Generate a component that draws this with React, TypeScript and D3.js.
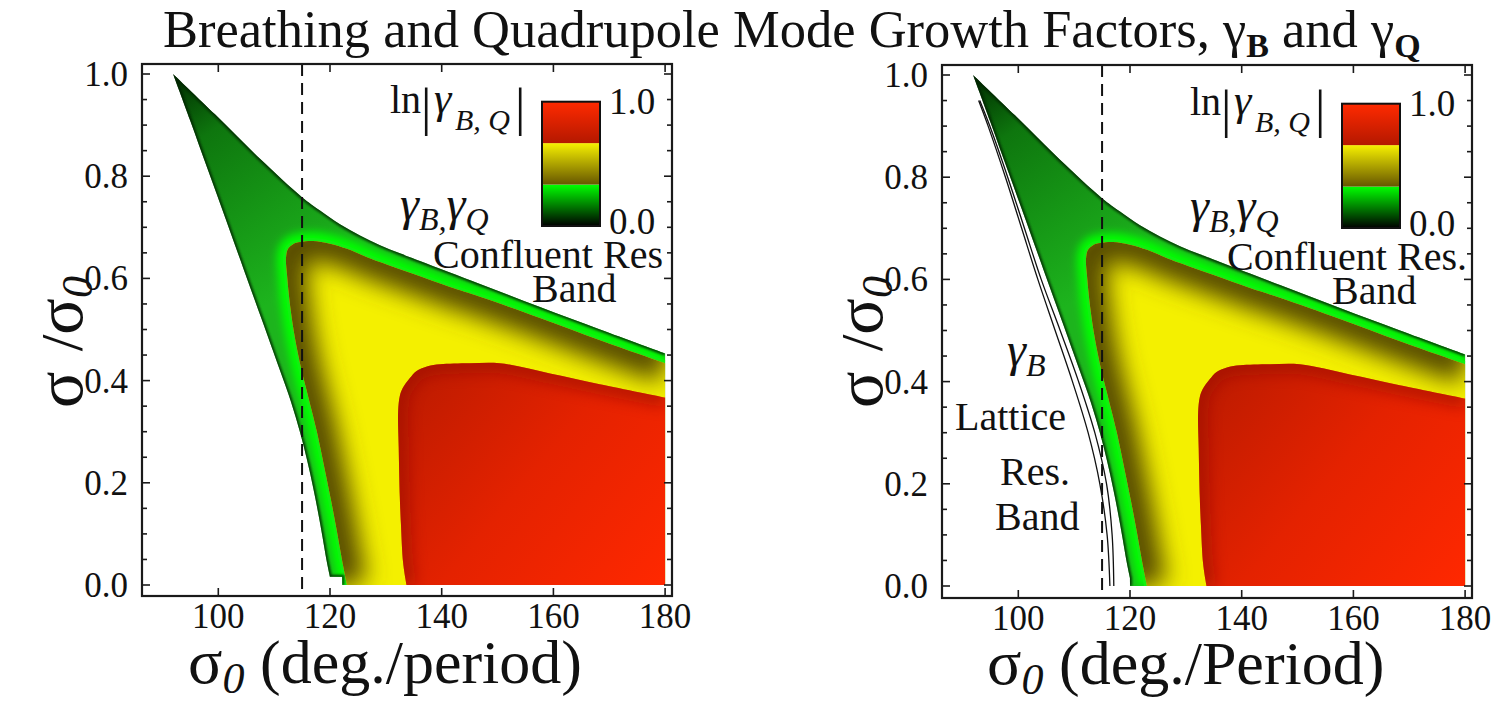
import React from 'react';
import * as d3 from 'd3';

type Pt = [number, number];

// ---------- data ----------
const xTicks = [100, 120, 140, 160, 180];
const yTicks = [0, 0.2, 0.4, 0.6, 0.8, 1.0];
const yMinorTicks = [0.05, 0.1, 0.15, 0.25, 0.3, 0.35, 0.45, 0.5, 0.55, 0.65, 0.7, 0.75, 0.85, 0.9, 0.95];
const resonanceSigma0 = 115;
const colorbarValues = [0, 1 / 3, 2 / 3, 1];
const colorbarLabels = ['0.0', '1.0'];

// outer (upper-right) boundary of the unstable region, from the tip to sigma0 = 180
const outerUpper: Pt[] = [
  [91.9, 1.0], [99.41, 0.921], [107.47, 0.834], [114.99, 0.759], [118.21, 0.733],
  [121.79, 0.706], [125.37, 0.684], [128.95, 0.665], [132.53, 0.649], [136.11, 0.634],
  [146.86, 0.589], [157.6, 0.544], [168.35, 0.5], [180, 0.453],
];
// outer (lower-left) boundary, from the tip down towards sigma = 0
const outerLower: Pt[] = [
  [91.9, 1.0], [94.93, 0.91], [98.15, 0.812], [101.4, 0.714], [104.6, 0.616],
  [107.8, 0.519], [111.0, 0.421], [113.02, 0.358], [114.63, 0.299], [115.88, 0.245],
  [116.96, 0.192], [117.85, 0.143], [118.66, 0.094], [119.37, 0.049], [119.99, 0.016],
];
const outerTailLeft: Pt[] = [[122.2, 0.016], [122.2, 0]];
const outerTailRight: Pt[] = [[120, 0]];
// contour ln|gamma| = 1/3 (green / yellow)
const greenInner: Pt[] = [
  [123.05, 0.0], [122.15, 0.049], [121.25, 0.104], [120.18, 0.166], [118.93, 0.233],
  [117.67, 0.299], [116.24, 0.362], [114.81, 0.425], [113.73, 0.483], [112.84, 0.548],
  [112.3, 0.607], [112.12, 0.64], [112.48, 0.658], [113.38, 0.667], [114.63, 0.671],
  [116.96, 0.673], [120.0, 0.668], [123.05, 0.658], [125.92, 0.645], [128.95, 0.632],
  [134.86, 0.609], [141.49, 0.583], [146.86, 0.564], [157.6, 0.5225], [168.35, 0.479],
  [180, 0.434],
];
// contour ln|gamma| = 2/3 (yellow / red)
const redEdge: Pt[] = [
  [133.7, 0.0], [133.1, 0.043], [132.7, 0.12], [132.5, 0.172], [132.3, 0.27], [132.2, 0.34],
  [132.5, 0.37], [133.0, 0.385], [134.3, 0.405], [135.5, 0.419], [137.5, 0.428],
  [139.7, 0.432], [145, 0.434], [150.4, 0.434], [159.4, 0.414], [168.3, 0.393], [180, 0.367],
];
// gamma_B lattice resonance band (right panel)
const latticeOuter: Pt[] = [
  [92.9, 0.95], [94.6, 0.9], [97.7, 0.8], [100.6, 0.7], [103.5, 0.6], [106.6, 0.5],
  [109.7, 0.4], [112.5, 0.3], [114.6, 0.2], [115.9, 0.1], [116.4, 0.0],
];
const latticeInner: Pt[] = [
  [93.1, 0.95], [94.9, 0.9], [98.1, 0.8], [101.1, 0.7], [104.1, 0.6], [107.5, 0.5],
  [110.8, 0.4], [113.7, 0.3], [115.8, 0.2], [116.8, 0.1], [117.1, 0.0],
];

const PX_PER_UNIT = 5.585;
const FONT = "'Liberation Serif', 'DejaVu Serif', serif";

interface PanelCfg {
  id: string;
  left: number; right: number; top: number; bottom: number;
  x100: number; y0: number; y1: number;
  tail: Pt[];
  lattice: boolean;
  xLabel: string; xLabelX: number; xLabelY: number;
  yLabelX: number;
  confluent: string; confluentX: number;
  gammaX: number;
  dy: number;
}

const panels: PanelCfg[] = [
  {
    id: 'L', left: 142, right: 672, top: 64, bottom: 596, x100: 218.3, y0: 585, y1: 74,
    tail: outerTailLeft, lattice: false,
    xLabel: ' (deg./period)', xLabelX: 188, xLabelY: 683, yLabelX: 82,
    confluent: 'Confluent Res', confluentX: 433, gammaX: 400, dy: 0,
  },
  {
    id: 'R', left: 942, right: 1472, top: 65, bottom: 598, x100: 1018.3, y0: 586, y1: 75,
    tail: outerTailRight, lattice: true,
    xLabel: ' (deg./Period)', xLabelX: 987, xLabelY: 684, yLabelX: 882,
    confluent: 'Confluent Res.', confluentX: 1227, gammaX: 1190, dy: 2,
  },
];

function Panel({ cfg }: { cfg: PanelCfg }) {
  const x = d3.scaleLinear().domain([100, 180]).range([cfg.x100, cfg.x100 + 80 * PX_PER_UNIT]);
  const y = d3.scaleLinear().domain([0, 1]).range([cfg.y0, cfg.y1]);
  const line = d3.line<Pt>().x((d) => x(d[0])).y((d) => y(d[1])).curve(d3.curveCatmullRom.alpha(0.5));
  const seg = (pts: Pt[]) => line(pts) as string;
  const cont = (pts: Pt[]) => seg(pts).replace(/^M/, 'L');
  const L = (p: Pt) => `L${x(p[0])},${y(p[1])}`;

  const tailRev = cfg.tail.slice().reverse();
  const outerPath =
    seg(outerUpper) + L([180, 0]) + tailRev.map(L).join('') + cont(outerLower.slice().reverse()) + 'Z';
  const yellowPath = seg(greenInner) + L([180, 0]) + 'Z';
  const redPath = seg(redEdge) + L([180, 0]) + 'Z';
  const edgePath = seg(outerUpper) + ' ' + seg(outerLower) + cfg.tail.map(L).join('');

  const id = cfg.id;
  const cbX = cfg.left + 400;
  const cbW = 58;
  const cb = d3.scaleLinear().domain([0, 1]).range([226 + cfg.dy, 101.7 + cfg.dy]);
  const cbGrads = [
    { top: '#00ff00', bottom: '#000000' },
    { top: '#f6f000', bottom: '#665600' },
    { top: '#ff2a00', bottom: '#b41800' },
  ];
  const ox = cfg.left - 142; // horizontal offset of this panel
  const dy = cfg.dy;

  return (
    <g>
      <defs>
        <clipPath id={`plot-${id}`}>
          <rect x={cfg.left} y={cfg.top} width={cfg.right - cfg.left} height={cfg.bottom - cfg.top} />
        </clipPath>
        <clipPath id={`outer-${id}`}><path d={outerPath} /></clipPath>
        <clipPath id={`yellow-${id}`}><path d={yellowPath} /></clipPath>
        <clipPath id={`red-${id}`}><path d={redPath} /></clipPath>
        <linearGradient id={`gbase-${id}`} gradientUnits="userSpaceOnUse"
          x1={x(92)} y1={y(1)} x2={x(116)} y2={y(0.6)}>
          <stop offset="0" stopColor="#002c00" />
          <stop offset="0.28" stopColor="#0e760e" />
          <stop offset="1" stopColor="#1db41d" />
        </linearGradient>
        <linearGradient id={`rgrad-${id}`} gradientUnits="userSpaceOnUse"
          x1={x(132)} y1={y(0.43)} x2={x(180)} y2={y(0)}>
          <stop offset="0" stopColor="#b81a00" />
          <stop offset="0.5" stopColor="#e42200" />
          <stop offset="1" stopColor="#ff2800" />
        </linearGradient>
        {cbGrads.map((g, i) => (
          <linearGradient key={i} id={`cb-${id}-${i}`} x1="0" y1="0" x2="0" y2="1">
            <stop offset="0" stopColor={g.top} />
            <stop offset="1" stopColor={g.bottom} />
          </linearGradient>
        ))}
        <filter id={`blur5-${id}`} filterUnits="userSpaceOnUse" x="0" y="0" width="1499" height="703">
          <feGaussianBlur stdDeviation="4" />
        </filter>
        <filter id={`blur12-${id}`} filterUnits="userSpaceOnUse" x="0" y="0" width="1499" height="703">
          <feGaussianBlur stdDeviation="12" />
        </filter>
        <filter id={`blur8-${id}`} filterUnits="userSpaceOnUse" x="0" y="0" width="1499" height="703">
          <feGaussianBlur stdDeviation="7" />
        </filter>
        <filter id={`blur1-${id}`} filterUnits="userSpaceOnUse" x="0" y="0" width="1499" height="703">
          <feGaussianBlur stdDeviation="0.8" />
        </filter>
      </defs>

      <g clipPath={`url(#plot-${id})`}>
        {/* green band */}
        <path d={outerPath} fill={`url(#gbase-${id})`} />
        <g clipPath={`url(#outer-${id})`}>
          <path d={seg(greenInner)} fill="none" stroke="#00ff00" strokeWidth={18} filter={`url(#blur5-${id})`} />
          <path d={seg(greenInner)} fill="none" stroke="#10f010" strokeWidth={6} />
          <path d={edgePath} fill="none" stroke="#062006" strokeWidth={4} opacity={0.8} filter={`url(#blur1-${id})`} />
        </g>
        {/* yellow band */}
        <path d={yellowPath} fill="#f4f000" />
        <g clipPath={`url(#yellow-${id})`}>
          <path d={seg(greenInner)} fill="none" stroke="#544800" strokeWidth={40} filter={`url(#blur12-${id})`} />
        </g>
        {/* red region */}
        <path d={redPath} fill={`url(#rgrad-${id})`} />
        <g clipPath={`url(#red-${id})`}>
          <path d={seg(redEdge)} fill="none" stroke="#9a1000" strokeWidth={20} opacity={0.55} filter={`url(#blur8-${id})`} />
        </g>
        {cfg.lattice && (
          <g fill="none" stroke="#111" strokeWidth={1.3}>
            <path d={seg(latticeOuter)} />
            <path d={seg(latticeInner)} />
          </g>
        )}
      </g>

      {/* resonance line */}
      <line x1={x(resonanceSigma0)} x2={x(resonanceSigma0)} y1={cfg.top} y2={cfg.bottom}
        stroke="#111" strokeWidth={2} strokeDasharray="12,7" />

      {/* frame */}
      <rect x={cfg.left} y={cfg.top} width={cfg.right - cfg.left} height={cfg.bottom - cfg.top}
        fill="none" stroke="#1a1a1a" strokeWidth={2.2} />
      <g stroke="#1a1a1a" strokeWidth={1.6}>
        {xTicks.map((t) => (
          <g key={`xt${t}`}>
            <line x1={x(t)} x2={x(t)} y1={cfg.bottom} y2={cfg.bottom - 8} />
            <line x1={x(t)} x2={x(t)} y1={cfg.top} y2={cfg.top + 8} />
          </g>
        ))}
        {yTicks.map((t) => (
          <g key={`yt${t}`}>
            <line x1={cfg.left} x2={cfg.left + 8} y1={y(t)} y2={y(t)} />
            <line x1={cfg.right} x2={cfg.right - 8} y1={y(t)} y2={y(t)} />
          </g>
        ))}
        {yMinorTicks.map((t) => (
          <g key={`ym${t}`}>
            <line x1={cfg.left} x2={cfg.left + 5} y1={y(t)} y2={y(t)} />
            <line x1={cfg.right} x2={cfg.right - 5} y1={y(t)} y2={y(t)} />
          </g>
        ))}
      </g>
      <g fontFamily={FONT} fontSize={35} fill="#111">
        {xTicks.map((t) => (
          <text key={`xl${t}`} x={x(t)} y={cfg.bottom + 32} textAnchor="middle">{t}</text>
        ))}
        {yTicks.map((t) => (
          <text key={`yl${t}`} x={cfg.left - 14} y={y(t) + 12} textAnchor="end">{d3.format('.1f')(t)}</text>
        ))}
      </g>

      {/* axis labels */}
      <text x={cfg.xLabelX} y={cfg.xLabelY} fontFamily={FONT} fill="#111">
        <tspan fontSize={64}>σ</tspan>
        <tspan fontSize={44} fontStyle="italic" dy={10}>0</tspan>
        <tspan fontSize={62} dy={-10}>{cfg.xLabel}</tspan>
      </text>
      <text transform={`translate(${cfg.yLabelX},342) rotate(-90)`} textAnchor="middle" fontFamily={FONT} fill="#111">
        <tspan fontSize={68}>σ</tspan>
        <tspan fontSize={60} dx={20}>/</tspan>
        <tspan fontSize={68}>σ</tspan>
        <tspan fontSize={44} fontStyle="italic" dy={10}>0</tspan>
      </text>

      {/* colour bar */}
      {cbGrads.map((g, i) => (
        <rect key={`cb${i}`} x={cbX} width={cbW} y={cb(colorbarValues[i + 1])}
          height={cb(colorbarValues[i]) - cb(colorbarValues[i + 1])} fill={`url(#cb-${id}-${i})`} />
      ))}
      <rect x={cbX} y={cb(1)} width={cbW} height={cb(0) - cb(1)} fill="none" stroke="#111" strokeWidth={2} />
      <g fontFamily={FONT} fontSize={37} fill="#111">
        <text x={cbX + cbW + 9} y={cb(1) + 12}>{colorbarLabels[1]}</text>
        <text x={cbX + cbW + 9} y={cb(0) + 8}>{colorbarLabels[0]}</text>
      </g>
      <g fontFamily={FONT} fill="#111">
        <text x={ox + 390} y={113 + dy} fontSize={40}>ln</text>
        <text x={ox + 421} y={125 + dy} fontSize={52}>|</text>
        <text x={ox + 434} y={113 + dy} fontSize={44} fontStyle="italic">γ</text>
        <text x={ox + 455} y={130 + dy} fontSize={30} fontStyle="italic">B, Q</text>
        <text x={ox + 515} y={125 + dy} fontSize={52}>|</text>
      </g>

      {/* annotations */}
      <text x={cfg.gammaX} y={220 + dy} fontFamily={FONT} fill="#111" fontStyle="italic">
        <tspan fontSize={48}>γ</tspan>
        <tspan fontSize={32} dy={10}>B,</tspan>
        <tspan fontSize={48} dy={-10}>γ</tspan>
        <tspan fontSize={32} dy={10}>Q</tspan>
      </text>
      <text x={cfg.confluentX} y={268 + dy} fontFamily={FONT} fontSize={40} fill="#111">{cfg.confluent}</text>
      <text x={ox + 532} y={302 + dy} fontFamily={FONT} fontSize={40} fill="#111">Band</text>
      {cfg.lattice && (
        <g fontFamily={FONT} fontSize={40} fill="#111">
          <text x={1007} y={366} fontStyle="italic">
            <tspan fontSize={48}>γ</tspan>
            <tspan fontSize={32} dy={10}>B</tspan>
          </text>
          <text x={955} y={430}>Lattice</text>
          <text x={1000} y={485}>Res.</text>
          <text x={995} y={530}>Band</text>
        </g>
      )}
    </g>
  );
}

export default function App() {
  return (
    <svg width={1499} height={703} viewBox="0 0 1499 703"
      style={{ position: 'absolute', left: 0, top: 0, background: '#fff' }}>
      <rect width={1499} height={703} fill="#fff" />
      <text x={163} y={47} fontFamily={FONT} fontSize={52.5} fill="#111">
        <tspan>Breathing and Quadrupole Mode Growth Factors, γ</tspan>
        <tspan fontSize={34} fontWeight="bold" dy={10}>B</tspan>
        <tspan dy={-10}> and γ</tspan>
        <tspan fontSize={34} fontWeight="bold" dy={10}>Q</tspan>
      </text>
      {panels.map((p) => (
        <Panel key={p.id} cfg={p} />
      ))}
    </svg>
  );
}
